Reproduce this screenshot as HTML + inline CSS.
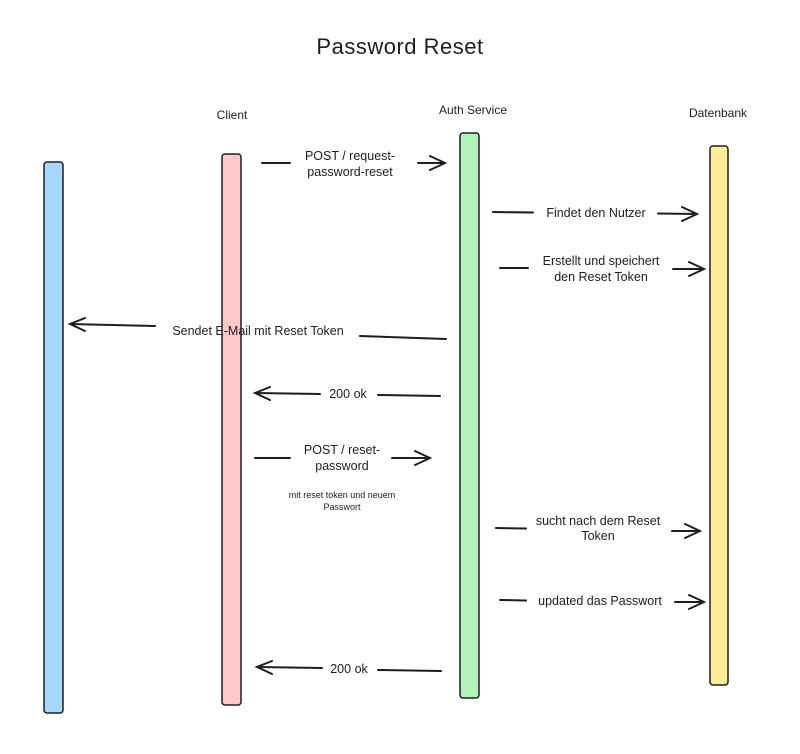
<!DOCTYPE html>
<html><head><meta charset="utf-8"><style>
html,body{margin:0;padding:0;background:#fff}
text{font-family:"Liberation Sans",sans-serif;fill:#1e1e1e}
</style></head><body>
<svg width="800" height="749" xmlns="http://www.w3.org/2000/svg">
<rect width="800" height="749" fill="#fff"/>
<text x="400" y="54" font-size="22" text-anchor="middle" letter-spacing="0.5">Password Reset</text>
<text x="232" y="119" font-size="12" text-anchor="middle">Client</text>
<text x="473" y="114" font-size="12" text-anchor="middle">Auth Service</text>
<text x="718" y="117" font-size="12" text-anchor="middle">Datenbank</text>
<g stroke="#1e1e1e" stroke-width="1.5">
<rect x="44" y="162" width="19" height="551" rx="3" fill="#a5d8ff"/>
<rect x="222" y="154" width="19" height="551" rx="3" fill="#ffc9c9"/>
<rect x="460" y="133" width="19" height="565" rx="3" fill="#b2f2bb"/>
<rect x="710" y="146" width="18" height="539" rx="3" fill="#ffec99"/>
</g>
<g stroke="#1e1e1e" stroke-width="2" fill="none" stroke-linecap="round">
<path d="M262 163 H290 M418 163 H445 M430 156 L445 163 L430 170"/>
<path d="M493 212 L533 212.5 M658 213.5 L697 214 M682 207 L697 214 L682 221"/>
<path d="M500 268 L528 268 M673 269 L704 269 M689 262 L704 269 L689 276"/>
<path d="M446 339 L360 336 M155 326 L70 324 M85 318 L70 324 L85 331"/>
<path d="M440 396 L378 395 M320 394 L255 393 M270 387 L255 393 L270 400"/>
<path d="M255 458 H290 M392 458 H430 M415 451 L430 458 L415 465"/>
<path d="M496 528 L526 528.5 M672 531 L700 531 M685 524 L700 531 L685 538"/>
<path d="M500 600 L526 600.5 M675 602 L704 602 M689 595 L704 602 L689 609"/>
<path d="M441 671 L378 670 M322 668 L257 667 M272 661 L257 667 L272 674"/>
</g>
<g font-size="12.5" text-anchor="middle">
<text x="350" y="160">POST / request-</text>
<text x="350" y="176">password-reset</text>
<text x="596" y="217">Findet den Nutzer</text>
<text x="601" y="265">Erstellt und speichert</text>
<text x="601" y="281">den Reset Token</text>
<text x="258" y="335">Sendet E-Mail mit Reset Token</text>
<text x="348" y="398">200 ok</text>
<text x="342" y="454">POST / reset-</text>
<text x="342" y="470">password</text>
<text x="342" y="498" font-size="9">mit reset token und neuem</text>
<text x="342" y="510" font-size="9">Passwort</text>
<text x="598" y="525">sucht nach dem Reset</text>
<text x="598" y="540">Token</text>
<text x="600" y="605">updated das Passwort</text>
<text x="349" y="673">200 ok</text>
</g>
</svg>
</body></html>
